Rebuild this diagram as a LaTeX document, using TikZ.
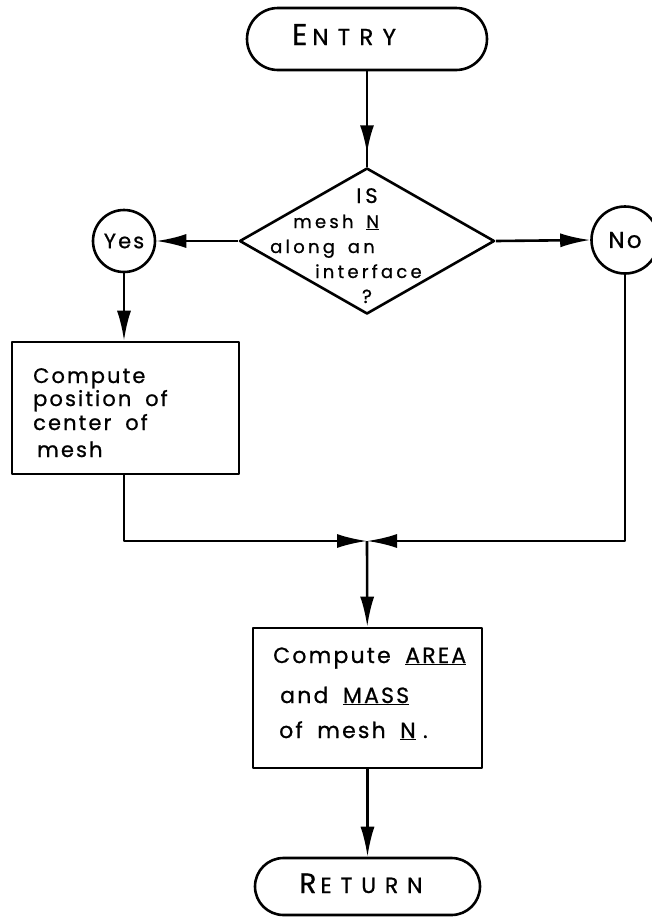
\documentclass[tikz,border=0pt]{standalone}
\usepackage{fontspec}
\newfontfamily\hand[LetterSpace=10,WordSpace=1.8,FakeBold=0.8]{Poppins}
\newfontfamily\handloose[LetterSpace=18,WordSpace=1.6,FakeBold=0.8]{Poppins}
\newfontfamily\handcaps[LetterSpace=40,FakeBold=0.8]{Poppins}
\usetikzlibrary{shapes.geometric,arrows.meta,decorations.markings}

\begin{document}
\begin{tikzpicture}[x=1pt,y=-1pt,
  line join=round,
  ink/.style={draw=black, line width=2.6pt},
  terminal/.style={ink, rectangle, rounded corners=#1, inner sep=0pt},
  stepbox/.style={ink, rectangle, inner sep=0pt},
  bubble/.style={ink, circle, inner sep=0pt},
  txt/.style={inner sep=0pt, font=\hand},
  flow/.style={ink, -{Latex[length=30pt,width=14pt]}},
  flowmid/.style={ink, postaction={decorate},
    decoration={markings, mark=at position #1 with {\arrow{Latex[length=28pt,width=14pt]}}}}
]
% page frame
\useasboundingbox (0,0) rectangle (652,919);

% terminals
\node[terminal=31pt, minimum width=240pt, minimum height=62pt] (entry) at (367,39) {};
\node[txt, anchor=base] (entrytxt) at (344,45)
  {\handcaps\fontsize{30}{30}\selectfont E\kern5pt\fontsize{23}{23}\selectfont NTRY};
\node[terminal=28.5pt, minimum width=225pt, minimum height=57pt] (ret) at (367.5,886.5) {};
\node[txt, anchor=base] (rettxt) at (361,893)
  {\handcaps\fontsize{28}{28}\selectfont R\kern4pt\fontsize{22}{22}\selectfont ETURN};

% decision
\node[ink, diamond, minimum width=255pt, minimum height=146pt, inner sep=0pt] (dec) at (367,241) {};
\node[txt, anchor=base] (d1) at (367,203) {\handloose\fontsize{21}{21}\selectfont IS};
\node[txt, anchor=base west] (d2) at (293,228) {\handloose\fontsize{18}{18}\selectfont mesh \underline{N}};
\node[txt, anchor=base west] (d3) at (270,253) {\handloose\fontsize{18}{18}\selectfont along an};
\node[txt, anchor=base west] (d4) at (315,278) {\handloose\fontsize{18}{18}\selectfont interface};
\node[txt, anchor=base] (d5) at (367,303) {\handloose\fontsize{19}{19}\selectfont ?};

% branch labels
\node[bubble, minimum size=62pt] (yes) at (124,241) {\fontsize{21}{21}\selectfont\hand Yes};
\node[bubble, minimum size=67pt] (no) at (625,240) {\fontsize{23}{23}\selectfont\hand No};

% process boxes
\node[stepbox, minimum width=227pt, minimum height=132pt] (lbox) at (125.5,408) {};
\node[txt, anchor=base west] (l1) at (33,383) {\fontsize{21}{21}\selectfont Compute};
\node[txt, anchor=base west] (l2) at (33,406) {\fontsize{21}{21}\selectfont position of};
\node[txt, anchor=base west] (l3) at (33,430) {\fontsize{21}{21}\selectfont center of};
\node[txt, anchor=base west] (l4) at (37,457) {\fontsize{21}{21}\selectfont mesh};

\node[stepbox, minimum width=229pt, minimum height=140pt] (mbox) at (367.5,698) {};
\node[txt, anchor=base west] (m1) at (273,663) {\fontsize{22}{22}\selectfont Compute \underline{AREA}};
\node[txt, anchor=base west] (m2) at (280,703) {\fontsize{22}{22}\selectfont and \underline{MASS}};
\node[txt, anchor=base west] (m3) at (279,738) {\fontsize{22}{22}\selectfont of mesh \underline{N}\,\,.};

% merge point
\coordinate (junc) at (367,541);

% connectors
\draw[flowmid=0.86] (entry) -- (dec);
\draw[flow] (dec.west) -- (yes.east);
\draw[flow] (dec.east) -- (no.west);
\draw[flow] (yes) -- (yes |- lbox.north);
\draw[flow] (yes |- lbox.south) -- (yes |- junc) -- (junc);
\draw[flow] (no) -- (no |- junc) -- (junc);
\draw[flow] (junc) -- (mbox);
\draw[flow] (mbox) -- (ret);
\end{tikzpicture}
\end{document}
